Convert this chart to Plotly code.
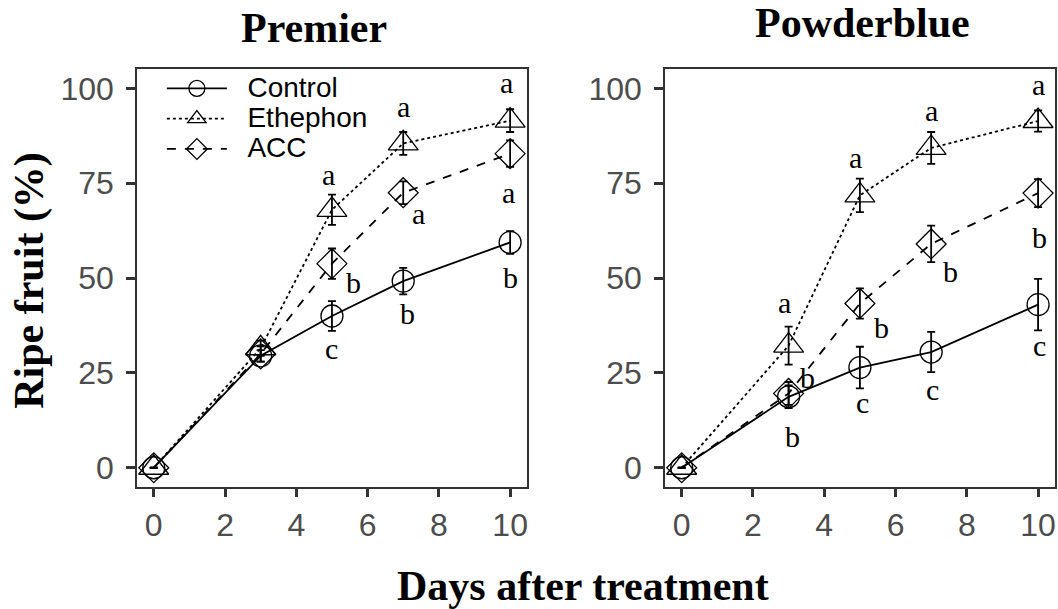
import plotly.graph_objects as go

days = [0, 3, 5, 7, 10]
series_names = ["Control", "Ethephon", "ACC"]

# Premier
premier_control = [0, 29.5, 40.0, 49.2, 59.4]
premier_control_err = [0, 1.5, 3.9, 3.5, 3.0]
premier_ethephon = [0, 31.5, 68.0, 85.5, 91.5]
premier_ethephon_err = [0, 2.0, 4.0, 3.0, 3.0]
premier_acc = [0, 30.0, 53.8, 72.5, 82.8]
premier_acc_err = [0, 2.0, 4.0, 3.0, 3.5]
premier_control_lab = ["", "", "c", "b", "b"]
premier_ethephon_lab = ["", "", "a", "a", "a"]
premier_acc_lab = ["", "", "b", "a", "a"]

# Powderblue
powder_control = [0, 18.7, 26.4, 30.5, 43.0]
powder_control_err = [0, 3.0, 5.5, 5.3, 6.8]
powder_ethephon = [0, 32.2, 71.8, 84.3, 91.4]
powder_ethephon_err = [0, 5.0, 4.4, 4.2, 2.8]
powder_acc = [0, 19.6, 43.3, 59.0, 72.4]
powder_acc_err = [0, 3.0, 4.0, 4.8, 3.7]
powder_control_lab = ["", "b", "c", "c", "c"]
powder_ethephon_lab = ["", "a", "a", "a", "a"]
powder_acc_lab = ["", "b", "b", "b", "b"]

x_ticks = [0, 2, 4, 6, 8, 10]
y_ticks = [0, 25, 50, 75, 100]

# label offsets in pixels (x, y) relative to the point
premier_offsets = {
    "Control": [(0, 0), (0, 0), (0, -32), (4, -32), (0, -35)],
    "Ethephon": [(0, 0), (0, 0), (-3, 35), (0, 37), (-4, 38)],
    "ACC": [(0, 0), (0, 0), (22, -19), (15, -21), (-2, -39)],
}
powder_offsets = {
    "Control": [(0, 0), (4, -40), (3, -35), (1, -37), (1, -41)],
    "Ethephon": [(0, 0), (-4, 43), (-4, 38), (0, 37), (0, 37)],
    "ACC": [(0, 0), (19, 16), (22, -24), (19, -28), (1, -44)],
}

styles = {
    "Control": dict(dash="solid", symbol="circle-open", size=22),
    "Ethephon": dict(dash="dot", symbol="triangle-up-open", size=26),
    "ACC": dict(dash="dash", symbol="diamond-open", size=23),
}

panels = [
    ("x", "y", {"Control": (premier_control, premier_control_err, premier_control_lab),
                "Ethephon": (premier_ethephon, premier_ethephon_err, premier_ethephon_lab),
                "ACC": (premier_acc, premier_acc_err, premier_acc_lab)}, premier_offsets, True),
    ("x2", "y2", {"Control": (powder_control, powder_control_err, powder_control_lab),
                  "Ethephon": (powder_ethephon, powder_ethephon_err, powder_ethephon_lab),
                  "ACC": (powder_acc, powder_acc_err, powder_acc_lab)}, powder_offsets, False),
]

fig = go.Figure()
annotations = []
for xa, ya, data, offsets, show_leg in panels:
    for name in series_names:
        vals, errs, labs = data[name]
        st = styles[name]
        fig.add_trace(go.Scatter(
            x=days, y=vals, xaxis=xa, yaxis=ya,
            name='<span style="font-size:28px">\u00a0\u00a0' + name + '</span>',
            mode="lines+markers", showlegend=show_leg,
            line=dict(color="black", width=1.8, dash=st["dash"]),
            marker=dict(symbol=st["symbol"], size=st["size"], color="black",
                        line=dict(color="black", width=1.3)),
            error_y=dict(type="data", array=errs, visible=True, color="black",
                         thickness=1.8, width=4),
        ))
        for d, v, lab, off in zip(days, vals, labs, offsets[name]):
            if lab:
                annotations.append(dict(
                    x=d, y=v, xref=xa, yref=ya, text=lab, showarrow=False,
                    xshift=off[0], yshift=off[1],
                    font=dict(family="Liberation Serif", size=30, color="black"),
                ))

title_font = dict(family="Liberation Serif", size=42, color="black")
annotations += [
    dict(text="<b>Premier</b>", x=0.297, y=0.954, xref="paper", yref="paper",
         showarrow=False, xanchor="center", yanchor="middle", font=title_font),
    dict(text="<b>Powderblue</b>", x=0.815, y=0.963, xref="paper", yref="paper",
         showarrow=False, xanchor="center", yanchor="middle", font=title_font),
    dict(text="<b>Days after treatment</b>", x=0.551, y=0.038, xref="paper", yref="paper",
         showarrow=False, xanchor="center", yanchor="middle", font=title_font),
    dict(text="<b>Ripe fruit (%)</b>", x=0.028, y=0.54, xref="paper", yref="paper",
         showarrow=False, xanchor="center", yanchor="middle", textangle=-90, font=title_font),
]

axis_common = dict(
    showgrid=False, zeroline=False, showline=True, mirror=True,
    linecolor="#333333", linewidth=1.5, ticks="outside", ticklen=9, tickwidth=2.5,
    tickcolor="#333333",
    tickfont=dict(family="Liberation Sans", size=32, color="#4d4d4d"),
)

fig.update_layout(
    width=1058, height=609,
    margin=dict(l=0, r=0, t=0, b=0),
    paper_bgcolor="white", plot_bgcolor="white",
    xaxis=dict(domain=[0.1295, 0.498], range=[-0.47, 10.47], tickvals=x_ticks,
               anchor="y", ticklabelstandoff=0, **axis_common),
    yaxis=dict(domain=[0.2008, 0.886], range=[-5, 105], tickvals=y_ticks,
               anchor="x", ticklabelstandoff=6, **axis_common),
    xaxis2=dict(domain=[0.6285, 0.997], range=[-0.47, 10.47], tickvals=x_ticks,
                anchor="y2", ticklabelstandoff=0, **axis_common),
    yaxis2=dict(domain=[0.2008, 0.886], range=[-5, 105], tickvals=y_ticks,
                anchor="x2", ticklabelstandoff=6, **axis_common),
    legend=dict(x=0.153, y=0.888, xanchor="left", yanchor="top",
                bgcolor="rgba(0,0,0,0)", itemwidth=60,
                font=dict(family="Liberation Sans", size=21, color="black")),
    annotations=annotations,
)

fig.write_html("out.html", config={"displayModeBar": False},
               post_script="document.body.style.margin='0px';document.body.style.overflow='hidden';")
